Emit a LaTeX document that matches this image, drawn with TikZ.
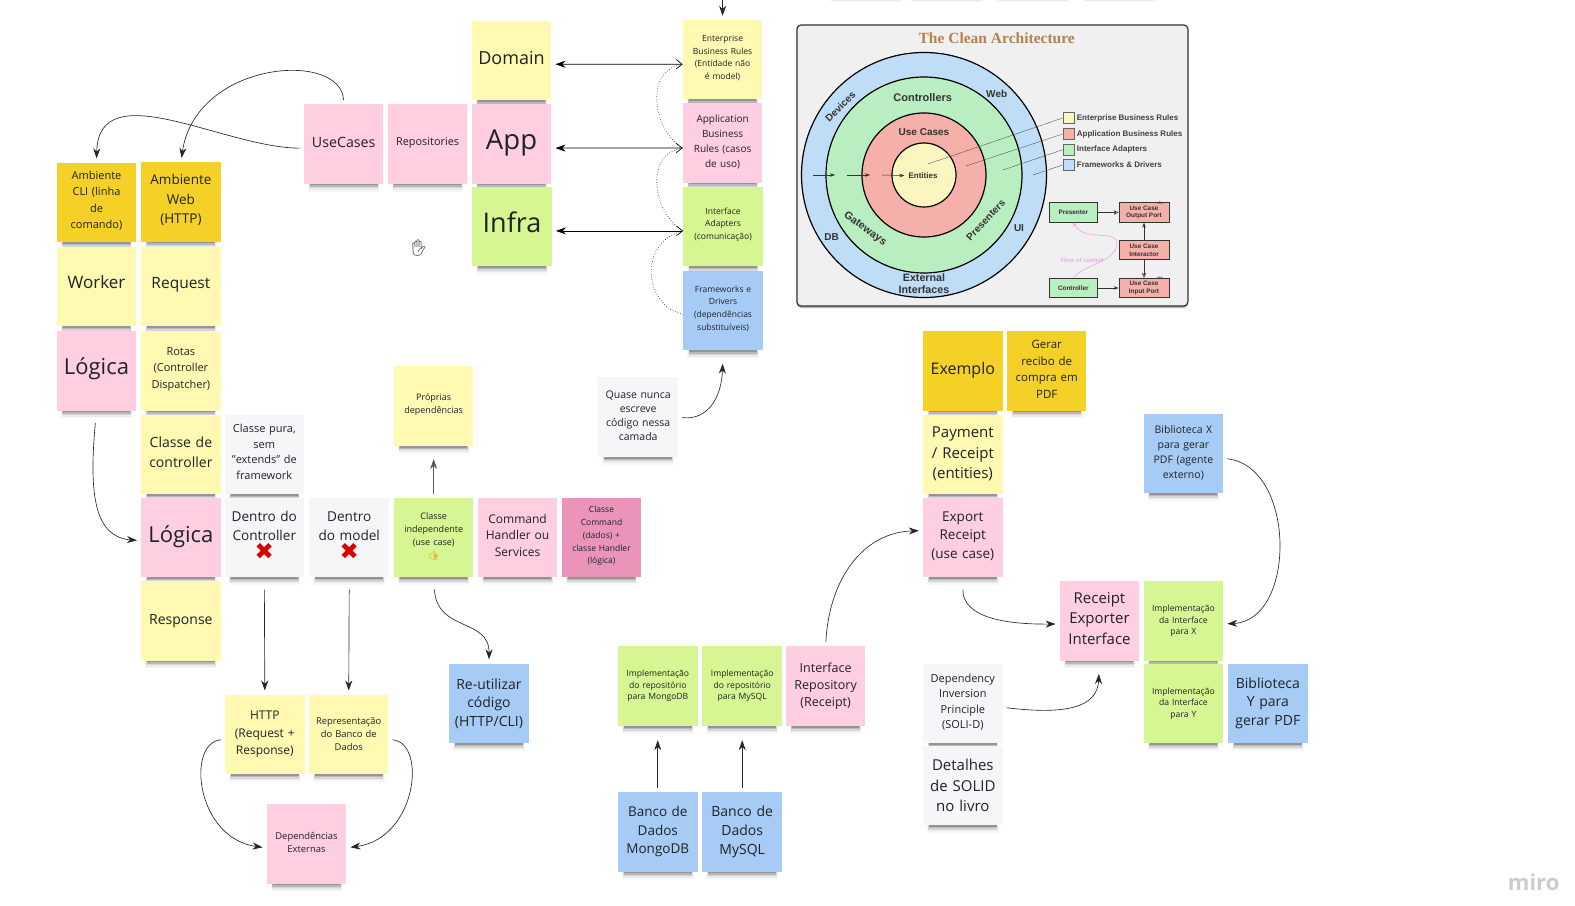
\documentclass[tikz,border=0pt]{standalone}
\usepackage{fontspec}
\setmainfont{Open Sans}
\newfontfamily\archfont{Liberation Sans}
\newfontfamily\titlefont{Liberation Serif}
\newfontfamily\emojifont{Noto Emoji}
\newfontfamily\symfont{DejaVu Sans}
\usetikzlibrary{positioning,arrows.meta,shadows}
\definecolor{noteYellow}{HTML}{FFF9B1}
\definecolor{notePink}{HTML}{FFCEE0}
\definecolor{noteGreen}{HTML}{D5F692}
\definecolor{noteBlue}{HTML}{A6CCF5}
\definecolor{noteGold}{HTML}{F5D128}
\definecolor{noteGray}{HTML}{F5F6F8}
\definecolor{noteRose}{HTML}{EA94BB}
\definecolor{inkText}{HTML}{1F2226}
\definecolor{ringBlue}{HTML}{BFDDF7}
\definecolor{ringGreen}{HTML}{B9EFC0}
\definecolor{ringRed}{HTML}{F5B0AA}
\definecolor{ringYellow}{HTML}{FBF6C0}
\definecolor{archBrown}{HTML}{B5824E}
\definecolor{flowPink}{HTML}{E9A8E6}
\newcommand{\fsz}[2]{\fontsize{#1}{#2}\selectfont}
\newcommand{\redcross}{{\symfont\color{red!85!black}\fsz{23}{18}✖}}
\tikzset{
  note/.style={minimum width=79.5pt, minimum height=79.5pt, inner sep=0pt, text width=77pt, align=center, text=inkText,
    general shadow={fill=black!3, shadow scale=.90, shadow yshift=-12.98pt},
    general shadow={fill=black!8, shadow scale=.88, shadow yshift=-12.27pt},
    general shadow={fill=black!16, shadow scale=.87, shadow yshift=-11.17pt},
    general shadow={fill=black!28, shadow scale=.86, shadow yshift=-10.07pt},
    general shadow={fill=black!42, shadow scale=.85, shadow yshift=-8.96pt}},
  lift/.style={execute at end node={\par\vspace{#1}}},
  yellownote/.style={note, fill=noteYellow},
  pinknote/.style={note, fill=notePink},
  greennote/.style={note, fill=noteGreen},
  bluenote/.style={note, fill=noteBlue},
  goldnote/.style={note, fill=noteGold},
  graynote/.style={note, fill=noteGray},
  rosenote/.style={note, fill=noteRose},
  offnote/.style={note, fill=white},
  link/.style={-{Stealth[length=10pt,width=7pt]}, black!85, line width=.65pt, shorten <=4pt, shorten >=4pt},
  twoway/.style={{Stealth[length=10pt,width=7pt]}-{Straight Barb[length=6pt,width=9.5pt]}, black, line width=.65pt, shorten <=4pt},
  dots/.style={-, black, line width=.6pt, dotted},
  archlabel/.style={font=\archfont\bfseries\fsz{10}{12.3}, text=black!80, inner sep=0pt, align=center},
  legendtext/.style={font=\archfont\bfseries\fsz{8}{10}, text=black!75, inner sep=0pt, anchor=west},
  swatch/.style={draw=black!60, line width=.3pt, minimum size=11pt, inner sep=0pt},
  ring/.style={circle, draw=black, line width=1.2pt, inner sep=0pt},
  archbox/.style={draw=black!80, line width=.7pt, minimum height=19.5pt, inner sep=0pt, align=center, font=\archfont\bfseries\fsz{6.4}{7.7}, text=black!80},
  archarrow/.style={-{Stealth[length=5pt,width=3.5pt]}, black!80, line width=.5pt},
  archopen/.style={-{Stealth[open,length=5pt,width=4.5pt]}, black!80, line width=.5pt},
  legendline/.style={black!70, line width=.35pt}
}
\begin{document}
\begin{tikzpicture}[x=1.005pt,y=-1.004pt]
\useasboundingbox (0,0) rectangle (1567.16,902.39);
% notes
\node[offnote] (offA) at (862,-45) {};
\node[offnote] (offB) at (942,-45) {};
\node[offnote] (offC) at (1028,-45) {};
\node[offnote] (offD) at (1114,-45) {};
\node[yellownote, font=\fsz{18}{22}] (domain) at (509,60.5) {\raisebox{6pt}{Domain}};
\node[yellownote, lift=3pt, font=\fsz{8.5}{12.6}] (enterprise) at (719,59.5) {Enterprise\\Business Rules\\(Entidade não\\é model)};
\node[pinknote, lift=4pt, font=\fsz{14.2}{15}] (useCases) at (342,143.5) {UseCases};
\node[pinknote, lift=2pt, font=\fsz{10.9}{12}] (repositories) at (425.5,143.5) {Repositories};
\node[pinknote, lift=2pt, font=\fsz{27.5}{34}] (app) at (509,143.5) {App};
\node[pinknote, lift=2pt, font=\fsz{10}{15}] (application) at (719,142.5) {Application\\Business\\Rules (casos\\de uso)};
\node[greennote, font=\fsz{27}{34}] (infra) at (509.5,225.5) {\raisebox{8pt}{Infra}};
\node[greennote, lift=4pt, font=\fsz{8.5}{12.6}] (adapters) at (719.5,225.5) {Interface\\Adapters\\(comunicação)};
\node[bluenote, lift=4pt, font=\fsz{8.5}{12.6}] (frameworks) at (719.5,309.5) {Frameworks e\\Drivers\\(dependências\\substituíveis)};
\node[goldnote, lift=3pt, font=\fsz{11}{16.5}] (ambCli) at (96,201.5) {Ambiente\\CLI (linha\\de\\comando)};
\node[goldnote, lift=3pt, font=\fsz{13.5}{19.5}] (ambWeb) at (180,201) {Ambiente\\Web\\(HTTP)};
\node[yellownote, lift=4pt, font=\fsz{17}{22}] (worker) at (96,285.5) {\raisebox{6pt}{Worker}};
\node[yellownote, lift=4pt, font=\fsz{15.5}{20}] (request) at (180,285.5) {\raisebox{4pt}{Request}};
\node[pinknote, lift=4pt, font=\fsz{22}{28}] (logicaCli) at (96,369.5) {Lógica};
\node[yellownote, lift=4pt, font=\fsz{11}{16.5}] (rotas) at (180,369.5) {Rotas\\(Controller\\Dispatcher)};
\node[yellownote, lift=2pt, font=\fsz{9}{13}] (proprias) at (431.5,404.5) {Próprias\\dependências};
\node[graynote, lift=3pt, font=\fsz{10.5}{14}] (quase) at (635,415.5) {Quase nunca\\escreve\\código nessa\\camada};
\node[yellownote, lift=5pt, font=\fsz{14}{20}] (classeCtrl) at (180,452.5) {Classe de\\controller};
\node[graynote, lift=5pt, font=\fsz{11}{15.5}] (classePura) at (263,452.5) {Classe pura,\\sem\\"extends" de\\framework};
\node[pinknote, lift=2pt, font=\fsz{22}{28}] (logicaWeb) at (180,535.5) {Lógica};
\node[graynote, lift=4pt, font=\fsz{13.6}{19}] (dentroCtrl) at (263,535.5) {Dentro do\\Controller\\\redcross};
\node[graynote, lift=4pt, font=\fsz{13.6}{19}] (dentroModel) at (347.5,535.5) {Dentro\\do model\\\redcross};
\node[greennote, lift=2pt, font=\fsz{9}{13}] (classeInd) at (431.5,535.5) {Classe\\independente\\(use case)\\{\emojifont\color{orange}👍}};
\node[pinknote, lift=5pt, font=\fsz{12}{16.5}] (cmdHandler) at (515,535.5) {Command\\Handler ou\\Services};
\node[rosenote, lift=3pt, font=\fsz{8.5}{12.7}] (cmdClasse) at (598.5,535.5) {Classe\\Command\\(dados) +\\classe Handler\\(lógica)};
\node[yellownote, font=\fsz{14}{19}] (response) at (180,618.5) {Response};
\node[yellownote, font=\fsz{12}{17.5}] (http) at (263.5,731.5) {HTTP\\(Request +\\Response)};
\node[yellownote, font=\fsz{9.4}{13}] (representacao) at (347,731.5) {Representação\\do Banco de\\Dados};
\node[pinknote, lift=3pt, font=\fsz{9.4}{12.5}] (externas) at (305,840.5) {Dependências\\Externas};
\node[bluenote, font=\fsz{14}{18.5}] (reutilizar) at (486.5,700.5) {Re-utilizar\\código\\(HTTP/CLI)};
% exemplo
\node[goldnote, lift=2pt, font=\fsz{16}{20}] (exemplo) at (958,369.5) {Exemplo};
\node[goldnote, lift=3pt, font=\fsz{11.5}{16.5}] (gerar) at (1041.5,369.5) {Gerar\\recibo de\\compra em\\PDF};
\node[yellownote, font=\fsz{15}{20.5}] (payment) at (958,452.5) {Payment\\/ Receipt\\(entities)};
\node[bluenote, font=\fsz{10.5}{15}] (bibliotecaX) at (1177.5,451.5) {Biblioteca X\\para gerar\\PDF (agente\\externo)};
\node[pinknote, lift=3pt, font=\fsz{13.5}{18.5}] (export) at (958,535.5) {Export\\Receipt\\(use case)};
\node[pinknote, lift=5pt, font=\fsz{15}{20.5}] (exporter) at (1094,618.5) {Receipt\\Exporter\\Interface};
\node[greennote, font=\fsz{8.6}{11.5}] (implX) at (1177.5,618.5) {Implementação\\da Interface\\para X};
\node[greennote, font=\fsz{8.6}{11.5}] (implMongo) at (654.5,683.5) {Implementação\\do repositório\\para MongoDB};
\node[greennote, font=\fsz{8.6}{11.5}] (implMysql) at (738.5,683.5) {Implementação\\do repositório\\para MySQL};
\node[pinknote, font=\fsz{12.5}{17}] (repoIface) at (821.5,683.5) {Interface\\Repository\\(Receipt)};
\node[graynote, lift=2pt, font=\fsz{11}{15.5}] (dip) at (958,700.5) {Dependency\\Inversion\\Principle\\(SOLI-D)};
\node[greennote, font=\fsz{8.6}{11.5}] (implY) at (1177.5,700.5) {Implementação\\da Interface\\para Y};
\node[bluenote, font=\fsz{14}{18.5}] (bibliotecaY) at (1261.5,700.5) {Biblioteca\\Y para\\gerar PDF};
\node[graynote, font=\fsz{15}{20.5}] (detalhes) at (958,782.5) {Detalhes\\de SOLID\\no livro};
\node[bluenote, font=\fsz{13.5}{18.5}] (bancoMongo) at (654.5,828.5) {Banco de\\Dados\\MongoDB};
\node[bluenote, font=\fsz{14}{19}] (bancoMysql) at (738.5,828.5) {Banco de\\Dados\\MySQL};
% connectors
\coordinate (topIn) at (719,-4);
\draw[link, shorten <=0pt] (topIn) -- (enterprise.north);
\draw[link] (useCases.north) .. controls (340,50) and (195,60) .. (ambWeb.north);
\draw[link] ([yshift=-4pt]useCases.west) .. controls (225,148) and (98,72) .. (ambCli.north);
\draw[twoway] ([yshift=-3.5pt]domain.east) -- ([yshift=-4.5pt]enterprise.west);
\draw[twoway] ([yshift=-4pt]app.east) -- ([yshift=-5pt]application.west);
\draw[twoway] ([yshift=-4.5pt]infra.east) -- ([yshift=-4.5pt]adapters.west);
\draw[dots] ([yshift=-5pt]application.west) .. controls (650,130) and (640,70) .. ([yshift=-4.5pt]enterprise.west);
\draw[dots] ([yshift=-4.5pt]adapters.west) .. controls (650,213) and (640,153) .. ([yshift=-5pt]application.west);
\draw[dots] ([yshift=-3.5pt]frameworks.west) .. controls (640,305) and (635,240) .. ([yshift=-4.5pt]adapters.west);
\draw[link, shorten >=13pt] (quase.east) .. controls (705,419) and (718,395) .. (frameworks.south);
\draw[link, line width=1pt, black!65, shorten >=13pt] (classeInd.north) -- (proprias.south);
\draw[link, shorten <=12pt] (dentroCtrl.south) -- (http.north);
\draw[link, shorten <=12pt] (dentroModel.south) -- (representacao.north);
\draw[link, shorten <=12pt] (classeInd.south) .. controls (435,630) and (487,615) .. (reutilizar.north);
\draw[link, shorten <=12pt] (logicaCli.south) .. controls (88,495) and (95,535) .. ([yshift=-3pt]logicaWeb.west);
\draw[link] ([yshift=-5pt]http.west) .. controls (185,740) and (195,835) .. ([yshift=-4pt]externas.west);
\draw[link] ([yshift=-5pt]representacao.east) .. controls (425,740) and (415,835) .. ([yshift=-4pt]externas.east);
\draw[link] (repoIface.north) .. controls (825,575) and (860,530) .. ([yshift=7pt]export.west);
\draw[link, shorten >=14pt] (bancoMongo.north) -- (implMongo.south);
\draw[link, shorten >=14pt] (bancoMysql.north) -- (implMysql.south);
\draw[link, shorten <=12pt] (export.south) .. controls (958,615) and (1000,622) .. ([yshift=-3pt]exporter.west);
\draw[link] ([yshift=-5pt]bibliotecaX.east) .. controls (1290,465) and (1290,618) .. ([yshift=-3pt]implX.east);
\draw[link, shorten >=13pt] ([yshift=-4pt]dip.east) .. controls (1060,712) and (1092,705) .. (exporter.south);
% clean architecture picture
\begin{scope}[x=1pt,y=-1pt]
\node[draw=black!80, line width=1.2pt, rounded corners=4pt, fill=black!6, minimum width=391pt, minimum height=281pt, inner sep=0pt,
  general shadow={fill=black!30, shadow yshift=-2pt}] (archFrame) at (992.4,165.5) {};
\node[font=\titlefont\bfseries\fsz{15.5}{16}, text=archBrown, inner sep=0pt] (archTitle) at (996.7,38) {The Clean Architecture};
\node[ring, fill=ringBlue, minimum size=245pt] (ringOuter) at (924,175) {};
\node[ring, fill=ringGreen, minimum size=196pt] (ringAdapters) at (924,175) {};
\node[ring, fill=ringRed, minimum size=124pt] (ringUseCases) at (924,175) {};
\node[ring, fill=ringYellow, minimum size=64pt] (ringEntities) at (924,175) {};
\node[archlabel, font=\archfont\bfseries\fsz{8}{9}] (lblEntities) at (923,175.7) {Entities};
\node[archlabel] (lblUseCases) at (924,132) {Use Cases};
\node[archlabel, font=\archfont\bfseries\fsz{11}{12}] (lblControllers) at (922.7,97.3) {Controllers};
\node[archlabel, rotate=45] (lblDevices) at (840.3,106.3) {Devices};
\node[archlabel] (lblWeb) at (996.7,94.3) {Web};
\node[archlabel, font=\archfont\bfseries\fsz{10.7}{12}, rotate=-36] (lblGateways) at (865,229) {Gateways};
\node[archlabel, rotate=47] (lblPresenters) at (985.7,220) {Presenters};
\node[archlabel] (lblDb) at (831.7,237.3) {DB};
\node[archlabel] (lblUi) at (1019,228.3) {UI};
\node[archlabel, font=\archfont\bfseries\fsz{10.7}{12.3}] (lblExternal) at (924,284) {External\\Interfaces};
\coordinate (inA) at (813,175);
\coordinate (inB) at (835,175);
\coordinate (inC) at (847,175);
\coordinate (inD) at (870,175);
\coordinate (inE) at (882,175);
\draw[archarrow] (inA) -- (inB);
\draw[archarrow] (inC) -- (inD);
\draw[archarrow, shorten >=4pt] (inE) -- (lblEntities.west);
% legend
\node[swatch, fill=ringYellow] (swEnterprise) at (1068.3,118) {};
\node[swatch, fill=ringRed] (swApplication) at (1068.3,134) {};
\node[swatch, fill=ringGreen] (swAdapters) at (1068.3,149.7) {};
\node[swatch, fill=ringBlue] (swFrameworks) at (1068.3,165) {};
\node[legendtext] (txtEnterprise) at (1076.7,118) {Enterprise Business Rules};
\node[legendtext] (txtApplication) at (1076.7,134) {Application Business Rules};
\node[legendtext] (txtAdapters) at (1076.7,149.7) {Interface Adapters};
\node[legendtext] (txtFrameworks) at (1076.7,165) {Frameworks \& Drivers};
\coordinate (dotEntities) at (928,164);
\coordinate (dotUseCases) at (966,166);
\coordinate (dotAdapters) at (1003,170);
\coordinate (dotFrameworks) at (1033,175);
\draw[legendline] (swEnterprise.west) -- (dotEntities);
\draw[legendline] (swApplication.west) -- (dotUseCases);
\draw[legendline] (swAdapters.west) -- (dotAdapters);
\draw[legendline] (swFrameworks.west) -- (dotFrameworks);
% small flow
\node[archbox, fill=ringGreen, minimum width=48pt] (bxPresenter) at (1073.3,212.5) {Presenter};
\node[archbox, fill=ringRed, minimum width=50pt] (bxOutput) at (1144,212.5) {Use Case\\Output Port};
\node[archbox, fill=ringRed, minimum width=50pt] (bxInteractor) at (1144,250) {Use Case\\Interactor};
\node[archbox, fill=ringGreen, minimum width=48pt] (bxController) at (1073.3,288) {Controller};
\node[archbox, fill=ringRed, minimum width=50pt] (bxInput) at (1144,288) {Use Case\\Input Port};
\node[font=\archfont\bfseries\fsz{4.5}{5}, text=black!75, inner sep=0pt] (tagOutput) at (1160,202.5) {«I»};
\node[font=\archfont\bfseries\fsz{4.5}{5}, text=black!75, inner sep=0pt] (tagInput) at (1160,278) {«I»};
\draw[archopen] (bxPresenter) -- (bxOutput);
\draw[archarrow] (bxInteractor) -- (bxOutput);
\draw[archopen] (bxInteractor) -- (bxInput);
\draw[archarrow] (bxController) -- (bxInput);
\node[font=\archfont\bfseries\fsz{6}{7}, text=flowPink, inner sep=0pt] (lblFlow) at (1082,260) {Flow of control};
\draw[-{Stealth[length=4pt,width=3.5pt]}, flowPink, line width=.6pt] (bxController.north) .. controls (1085,264) and (1114,262) .. (1117,245) .. controls (1119,228) and (1085,243) .. (bxPresenter.south);
\end{scope}
% other bits
\node[font=\emojifont\fsz{16}{16}, text=black!80, inner sep=0pt] (handCursor) at (417,247) {✋};
\node[font=\bfseries\fsz{22}{24}, text=black!20, inner sep=0pt] (miroLogo) at (1526,879) {miro};
\end{tikzpicture}
\end{document}
